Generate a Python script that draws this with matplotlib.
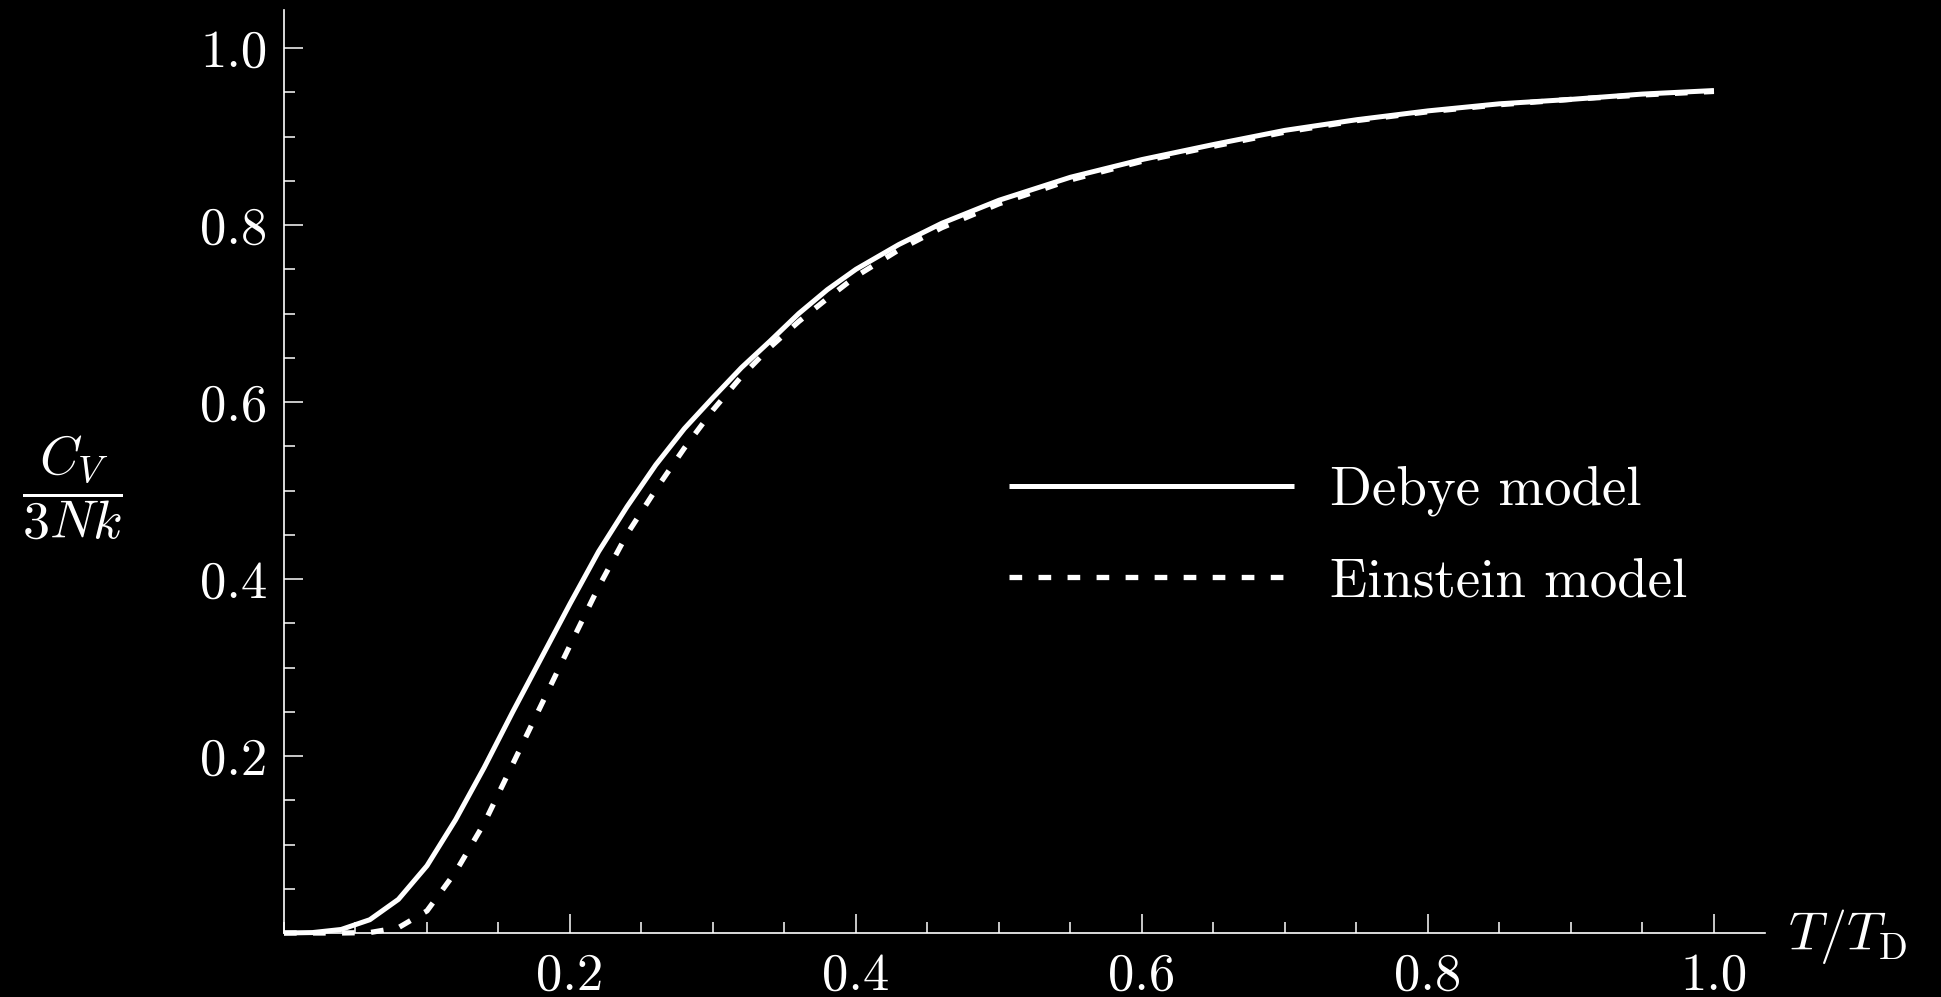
import matplotlib
matplotlib.use("Agg")
import matplotlib.pyplot as plt
from matplotlib.ticker import MultipleLocator

plt.rcParams['font.family'] = 'serif'
plt.rcParams['font.serif'] = ['cmr10']
plt.rcParams['mathtext.fontset'] = 'cm'
plt.rcParams['axes.unicode_minus'] = False
plt.rcParams['axes.formatter.use_mathtext'] = True

# values
t_ratio = [0.0, 0.02, 0.04, 0.06, 0.08, 0.10, 0.12, 0.14, 0.16, 0.18, 0.20,
           0.22, 0.24, 0.26, 0.28, 0.30, 0.32, 0.34, 0.36, 0.38, 0.40, 0.43,
           0.46, 0.50, 0.55, 0.60, 0.65, 0.70, 0.75, 0.80, 0.85, 0.90, 0.95, 1.00]
debye = [0.0, 0.0005, 0.004, 0.015, 0.038, 0.076, 0.128, 0.187, 0.250, 0.311, 0.372,
         0.431, 0.482, 0.529, 0.570, 0.605, 0.639, 0.669, 0.700, 0.727, 0.750, 0.778,
         0.802, 0.828, 0.854, 0.874, 0.891, 0.907, 0.919, 0.929, 0.937, 0.942, 0.948, 0.952]
einstein = [0.0, 0.0, 0.0, 0.0005, 0.006, 0.025, 0.069, 0.124, 0.191, 0.258, 0.325,
            0.391, 0.451, 0.501, 0.548, 0.591, 0.629, 0.662, 0.691, 0.717, 0.742, 0.772,
            0.797, 0.824, 0.851, 0.872, 0.889, 0.905, 0.918, 0.928, 0.936, 0.942, 0.947, 0.951]
labels = ['Debye model', 'Einstein model']

W, H = 1941, 997
fig = plt.figure(figsize=(W / 100, H / 100), dpi=100, facecolor='black')
ax = fig.add_axes([284 / W, 64 / H, 1481 / W, 923 / H], facecolor='black')

ax.plot(t_ratio, debye, color='white', lw=3.6, solid_capstyle='butt',
        solid_joinstyle='round', label=labels[0], clip_on=False)
ax.plot(t_ratio, einstein, color='white', lw=3.8, dashes=(2.4, 3.1),
        dash_capstyle='butt', label=labels[1], clip_on=False)

ax.set_xlim(0, 1.0357)
ax.set_ylim(0, 1.043)

for s in ['top', 'right']:
    ax.spines[s].set_visible(False)
for s in ['left', 'bottom']:
    ax.spines[s].set_color('white')
    ax.spines[s].set_linewidth(1.2)

ax.xaxis.set_minor_locator(MultipleLocator(0.05))
ax.yaxis.set_minor_locator(MultipleLocator(0.05))
ax.set_xticks([0.2, 0.4, 0.6, 0.8, 1.0])
ax.set_yticks([0.2, 0.4, 0.6, 0.8, 1.0])
ax.set_xticklabels(['0.2', '0.4', '0.6', '0.8', '1.0'])
ax.set_yticklabels(['0.2', '0.4', '0.6', '0.8', '1.0'])
ax.tick_params(which='both', direction='in', colors='white', width=1.1,
               labelsize=38)
ax.tick_params(which='major', length=14)
ax.tick_params(which='minor', length=8)
ax.tick_params(axis='x', pad=14)
ax.tick_params(axis='y', pad=12)

leg = ax.legend(loc='center left', bbox_to_anchor=((1009 - 284) / 1481, (933 - 536.5) / 923),
                frameon=False, fontsize=39.5, handlelength=5.2, handletextpad=0.65,
                labelspacing=0.75, borderpad=0, borderaxespad=0)
for txt in leg.get_texts():
    txt.set_color('white')

fig.text(72 / W, 1 - 488 / H, r'$\dfrac{C_V}{3Nk}$', color='white', fontsize=39,
         ha='center', va='center')
fig.text(1788 / W, 1 - 950 / H, r'$T/T_{\mathrm{D}}$', color='white', fontsize=39,
         ha='left', va='baseline')

fig.savefig('out.png', dpi=100, facecolor='black')
